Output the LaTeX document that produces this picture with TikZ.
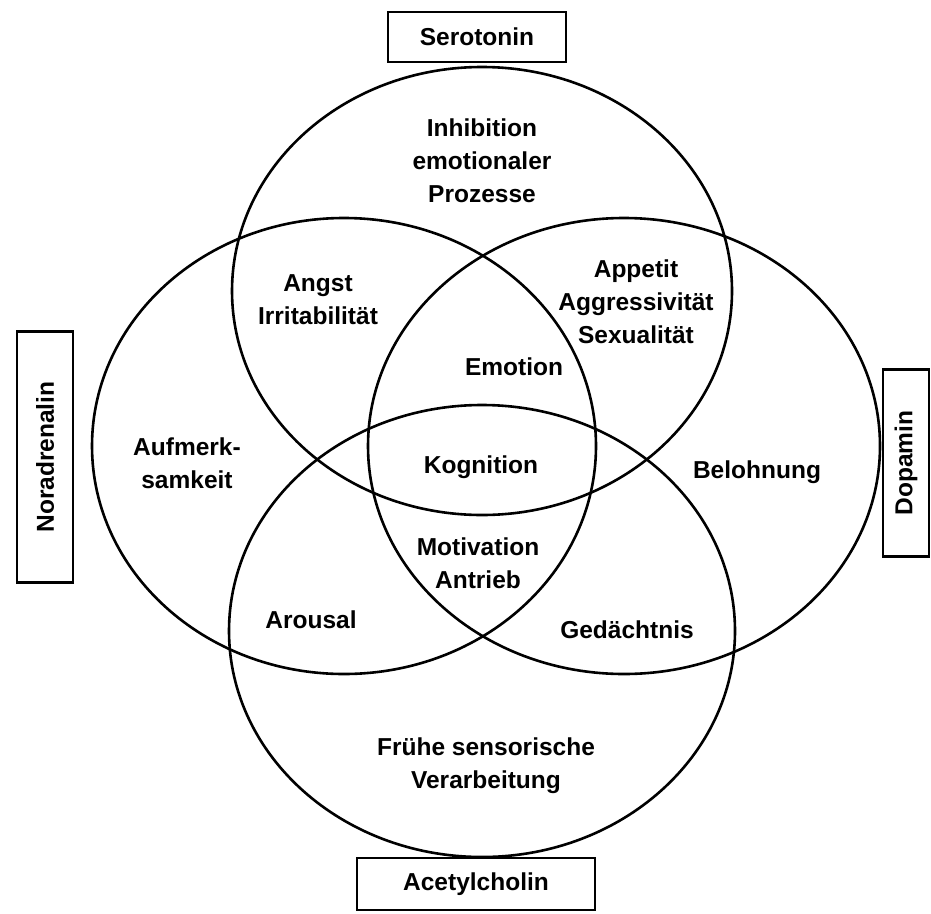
\documentclass[tikz,border=0pt]{standalone}
\usepackage{fontspec}
\setmainfont{Liberation Sans}
\usepackage{tikz}
\usetikzlibrary{positioning}

\tikzset{
  lbl/.style={font=\bfseries\fontsize{24.5}{33}\selectfont, align=center, inner sep=0pt},
  ntbox/.style={draw, line width=2.5pt, font=\bfseries\fontsize{24.5}{30}\selectfont, inner sep=0pt},
  ring/.style={line width=2.6pt}
}

\begin{document}
\begin{tikzpicture}[x=1pt, y=-1pt]
\useasboundingbox (0,0) rectangle (931,913);

% Rings of the four transmitters
\draw[ring] (482,291) ellipse [x radius=250pt, y radius=224pt]; % Serotonin
\draw[ring] (482,631) ellipse [x radius=253pt, y radius=226pt]; % Acetylcholin
\draw[ring] (344,446) ellipse [x radius=252pt, y radius=228pt]; % Noradrenalin
\draw[ring] (624,446) ellipse [x radius=256pt, y radius=228pt]; % Dopamin

% Transmitter boxes
\node[ntbox, minimum width=178pt, minimum height=50pt] (sero) at (477,37) {Serotonin};
\node[ntbox, minimum width=238pt, minimum height=52pt] (acet) at (476,884) {Acetylcholin};
\node[ntbox, rotate=90, minimum width=251pt, minimum height=56pt] (nora) at (45,457) {Noradrenalin};
\node[ntbox, rotate=90, minimum width=187pt, minimum height=46pt] (dopa) at (906,463) {Dopamin};

% Functions in the regions
\node[lbl] (inhib) at (482,161) {Inhibition\\emotionaler\\Prozesse};
\node[lbl] (angst) at (318,300) {Angst\\Irritabilität};
\node[lbl] (appet) at (636,302) {Appetit\\Aggressivität\\Sexualität};
\node[lbl] (emot) at (514,367) {Emotion};
\node[lbl] (kogn) at (481,467) {Kognition};
\node[lbl] (motiv) at (478,563) {Motivation\\Antrieb};
\node[lbl] (aufm) at (187,463) {Aufmerk-\\samkeit};
\node[lbl] (belo) at (757,472) {Belohnung};
\node[lbl] (arou) at (311,620) {Arousal};
\node[lbl] (gedae) at (627,630) {Gedächtnis};
\node[lbl] (fruehe) at (486,766) {Frühe sensorische\\Verarbeitung};
\end{tikzpicture}
\end{document}
